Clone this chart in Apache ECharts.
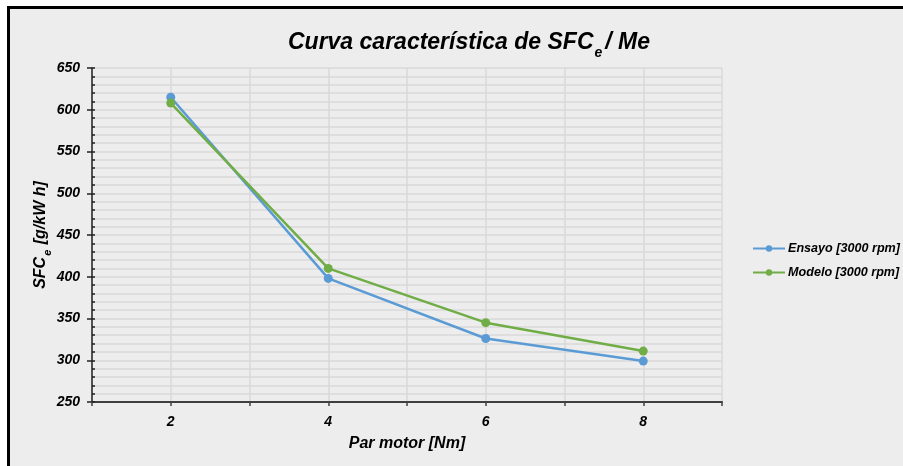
<!DOCTYPE html>
<html>
<head>
<meta charset="utf-8">
<script src="https://cdn.jsdelivr.net/npm/echarts@6/dist/echarts.min.js"></script>
<style>
html,body{margin:0;padding:0;background:#ffffff;overflow:hidden;}
#bg{position:absolute;left:7px;top:6px;width:2000px;height:2000px;border:3px solid #000;background:#ededed;}
#chart{position:absolute;left:0;top:0;width:903px;height:466px;}
</style>
</head>
<body>
<div id="bg"></div>
<div id="chart"></div>
<script>
const xValues = [2, 4, 6, 8];
const ensayo = [615, 398, 326, 299];
const modelo = [608, 410, 345, 311];
const seriesNames = ['Ensayo [3000 rpm]', 'Modelo [3000 rpm]'];

const font = 'Liberation Sans, Arial, sans-serif';
const chart = echarts.init(document.getElementById('chart'));
const toPairs = (ys) => xValues.map((x, i) => [x, ys[i]]);

chart.setOption({
  backgroundColor: 'transparent',
  animation: false,
  title: {
    text: '{t|Curva característica de SFC}{s|e}{t|/ Me}',
    left: 464,
    textAlign: 'center',
    top: 21,
    textStyle: {
      rich: {
        t: {fontFamily: font, fontSize: 23, fontWeight: 'bold', fontStyle: 'italic', color: '#000', lineHeight: 28, verticalAlign: 'bottom'},
        s: {fontFamily: font, fontSize: 14, fontWeight: 'bold', fontStyle: 'italic', color: '#000', lineHeight: 28, verticalAlign: 'bottom', padding: [0, 3, -6, 1]}
      }
    }
  },
  legend: {
    orient: 'vertical',
    left: 747,
    top: 236,
    itemWidth: 32,
    itemHeight: 8,
    itemGap: 9,
    textStyle: {fontFamily: font, fontSize: 12.6, fontWeight: 'bold', fontStyle: 'italic', color: '#000', lineHeight: 15, padding: [0, 0, 0, -2]},
    data: seriesNames
  },
  grid: {left: 92, right: 181, top: 68, bottom: 64, containLabel: false},
  xAxis: {
    type: 'value',
    min: 1, max: 9, interval: 1,
    name: 'Par motor [Nm]',
    nameLocation: 'middle',
    nameGap: 34,
    nameTextStyle: {fontFamily: font, fontSize: 16, fontWeight: 'bold', fontStyle: 'italic', color: '#000'},
    axisLine: {lineStyle: {color: '#404040', width: 2}},
    axisTick: {show: true, length: 4, lineStyle: {color: '#404040', width: 1.5}},
    axisLabel: {
      fontFamily: font, fontSize: 14, fontWeight: 'bold', fontStyle: 'italic', color: '#000', margin: 13,
      formatter: (v) => (v % 2 === 0 ? String(v) : '')
    },
    splitLine: {show: true, lineStyle: {color: '#d9d9d9', width: 1.5}}
  },
  yAxis: [{
    type: 'value',
    min: 250, max: 650, interval: 50,
    name: '{t|SFC}{s|e}{t| [g/kW h]}',
    nameLocation: 'middle',
    nameRotate: 90,
    nameGap: 43,
    nameMoveOverlap: false,
    nameTextStyle: {
      rich: {
        t: {fontFamily: font, fontSize: 16, fontWeight: 'bold', fontStyle: 'italic', color: '#000', lineHeight: 19, verticalAlign: 'bottom'},
        s: {fontFamily: font, fontSize: 11, fontWeight: 'bold', fontStyle: 'italic', color: '#000', lineHeight: 19, verticalAlign: 'bottom', padding: [0, 1, -4, 1]}
      }
    },
    axisLine: {show: true, lineStyle: {color: '#222', width: 1.5}},
    axisTick: {show: true, length: 5, lineStyle: {color: '#222', width: 1.5}},
    axisLabel: {fontFamily: font, fontSize: 14, fontWeight: 'bold', fontStyle: 'italic', color: '#000', margin: 12},
    splitLine: {show: true, lineStyle: {color: '#d9d9d9', width: 1.5}},
    minorTick: {show: false},
    minorSplitLine: {show: true, lineStyle: {color: '#d9d9d9', width: 1.5}}
  }, {
    type: 'value',
    position: 'left',
    min: 250, max: 650, interval: 50,
    axisLine: {show: false},
    axisLabel: {show: false},
    axisTick: {show: true, inside: true, length: 3, lineStyle: {color: '#222', width: 1.5}},
    minorTick: {show: true, splitNumber: 5, length: 3, lineStyle: {color: '#222', width: 1.5}},
    splitLine: {show: false}
  }],
  series: [{
    name: seriesNames[0],
    type: 'line',
    data: toPairs(ensayo),
    symbol: 'circle',
    symbolSize: 9,
    itemStyle: {color: '#5b9bd5'},
    lineStyle: {color: '#5b9bd5', width: 2.5},
    z: 3
  }, {
    name: seriesNames[1],
    type: 'line',
    data: toPairs(modelo),
    symbol: 'circle',
    symbolSize: 9,
    itemStyle: {color: '#70ad47'},
    lineStyle: {color: '#70ad47', width: 2.5},
    z: 4
  }]
});
</script>
</body>
</html>
